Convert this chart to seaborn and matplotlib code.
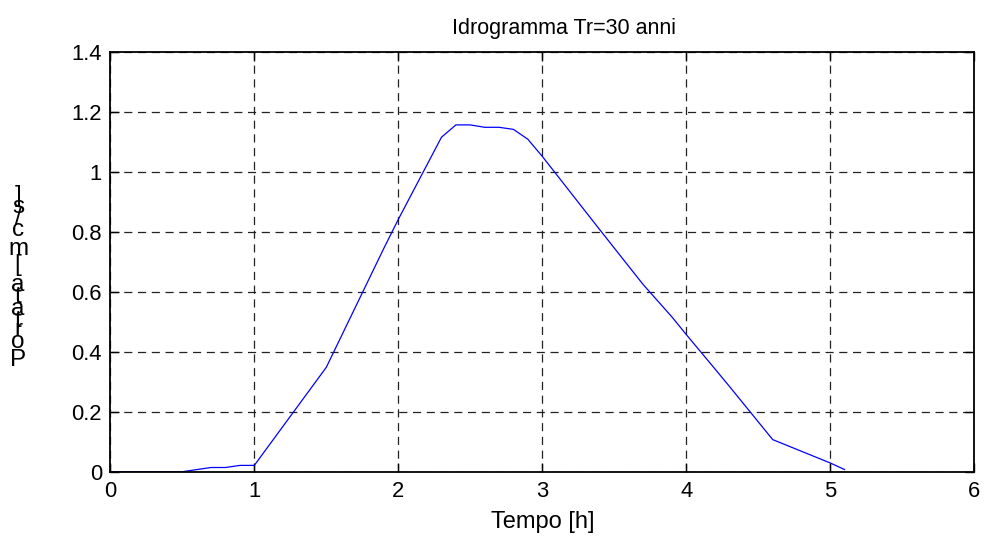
import numpy as np
import pandas as pd
import matplotlib
matplotlib.use("Agg")
import matplotlib.pyplot as plt
import seaborn as sns
from matplotlib import font_manager
from matplotlib.ft2font import FT2Font
from matplotlib.ticker import FuncFormatter

# ---- data ----
tempo_h = [0.0, 0.5, 0.6, 0.7, 0.8, 0.9, 1.0, 1.5, 1.9, 2.0, 2.3, 2.4, 2.5,
           2.6, 2.7, 2.8, 2.9, 3.0, 3.4, 3.7, 3.9, 4.0, 4.2, 4.3, 4.6, 5.0, 5.1]
portata = [0.0, 0.0, 0.007, 0.014, 0.014, 0.021, 0.021, 0.348, 0.745, 0.841,
           1.115, 1.156, 1.156, 1.148, 1.148, 1.141, 1.108, 1.051, 0.806,
           0.624, 0.516, 0.457, 0.342, 0.284, 0.107, 0.029, 0.007]
x_ticks = [0, 1, 2, 3, 4, 5, 6]
y_ticks = [0, 0.2, 0.4, 0.6, 0.8, 1.0, 1.2, 1.4]
title_text = "Idrogramma Tr=30 anni"
xlabel_text = "Tempo [h]"
ylabel_text = "Portata [mc/s]"

df = pd.DataFrame({"Tempo": tempo_h, "Portata": portata})

sns.set_style("white")
plt.rcParams["font.family"] = ["Liberation Sans", "DejaVu Sans"]

W, H, DPI = 986, 541, 100
fig = plt.figure(figsize=(W / DPI, H / DPI), dpi=DPI)
ax_l, ax_r, ax_t, ax_b = 110.3, 974.3, 51.7, 471.7
ax = fig.add_axes([ax_l / W, 1 - ax_b / H, (ax_r - ax_l) / W, (ax_b - ax_t) / H])

sns.lineplot(data=df, x="Tempo", y="Portata", ax=ax, color="#0000ff",
             linewidth=0.9, estimator=None, sort=False)

ax.set_xlim(0, 6)
ax.set_ylim(0, 1.4)
ax.set_xticks(x_ticks)
ax.set_yticks(y_ticks)
ax.yaxis.set_major_formatter(FuncFormatter(lambda v, p: f"{v:g}"))
ax.xaxis.set_major_formatter(FuncFormatter(lambda v, p: f"{v:g}"))

ax.grid(True, color="#222222", linestyle=(0, (6.5, 4.5)), linewidth=0.9)
for s in ax.spines.values():
    s.set_visible(True)
    s.set_color("black")
    s.set_linewidth(1.3)
ax.tick_params(axis="both", which="major", direction="in", length=6.5,
               width=1.0, color="black", labelsize=15.8, labelcolor="black",
               top=True, right=True, bottom=True, left=True)
ax.tick_params(axis="x", pad=7)
ax.tick_params(axis="y", pad=6)

ax.set_xlabel(xlabel_text, fontsize=17, labelpad=6, color="black")
ax.set_ylabel("")
ax.set_title(title_text, fontsize=15.5, x=(564 - ax_l) / (ax_r - ax_l),
             pad=13, color="black")

# ---- y label: glyphs stacked upright along the rotated text path ----
fp = font_manager.FontProperties(family="Liberation Sans")
font = FT2Font(font_manager.findfont(fp), hinting_factor=1)
font.set_size(100, 72)
adv = []
for ch in ylabel_text:
    g = font.load_char(ord(ch))
    adv.append(g.linearHoriAdvance / 65536.0 / 100.0)
adv = np.array(adv)
cum = np.concatenate([[0], np.cumsum(adv)])
centers = cum[:-1] + adv / 2
px_per_em = 28.8
y0 = 360.0
for ch, c in zip(ylabel_text, centers):
    if ch == " ":
        continue
    ypix = y0 - (c - centers[0]) * px_per_em
    fig.text(18 / W, 1 - ypix / H, ch, ha="center", va="center",
             fontsize=17.5, color="black")

fig.savefig("out.png", dpi=DPI, facecolor="white")
